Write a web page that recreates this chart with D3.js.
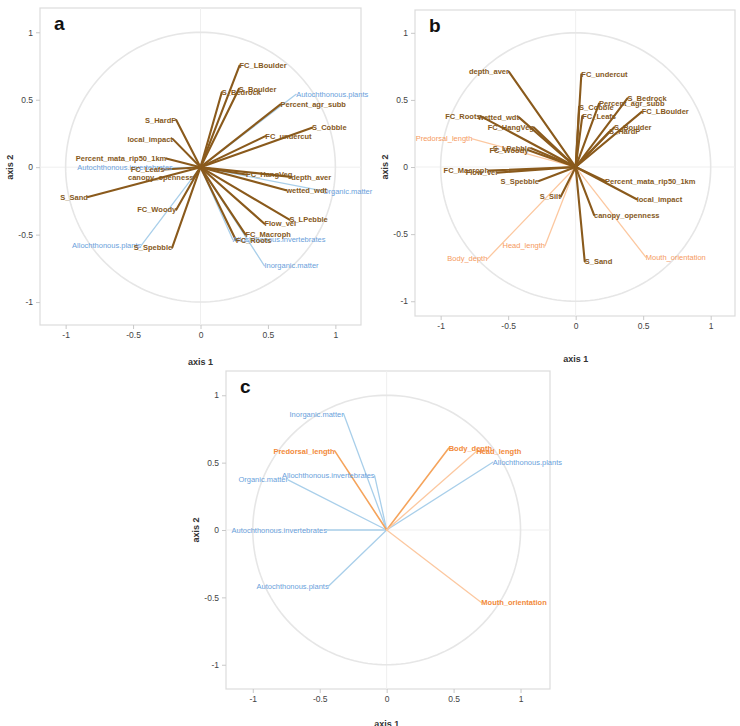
<!DOCTYPE html>
<html>
<head>
<meta charset="utf-8">
<script src="https://cdn.jsdelivr.net/npm/d3@7"></script>
<style>
  html, body { margin: 0; padding: 0; background: #fff; }
  svg { display: block; font-family: "Liberation Sans", Arial, sans-serif; }
</style>
</head>
<body>
<svg id="chart" width="740" height="726"></svg>
<script>
// ---------- DATA ----------
const tickValues = [-1, -0.5, 0, 0.5, 1];
const tickLabels = ["-1", "-0.5", "0", "0.5", "1"];

// Panel a
const aNames = ["FC_LBoulder","S_Boulder","S_Bedrock","Percent_agr_subb","S_Cobble","FC_undercut","FC_HangVeg","depth_aver","wetted_wdt","S_LPebble","Flow_vel","FC_Macroph","FC_Roots","S_Spebble","FC_Woody","S_Sand","canopy_openness","FC_Leafs","Percent_mata_rip50_1km","local_impact","S_HardP",
  "Autochthonous.plants","Organic.matter","Allochthonous.invertebrates","Inorganic.matter","Allochthonous.plants","Autochthonous.invertebrates"];
const aX = [0.289,0.284,0.158,0.593,0.827,0.481,0.338,0.672,0.635,0.659,0.474,0.333,0.264,-0.21,-0.18,-0.835,-0.052,-0.267,-0.254,-0.205,-0.18,
  0.709,0.906,0.24,0.474,-0.439,-0.205];
const aY = [0.753,0.58,0.555,0.466,0.292,0.23,-0.054,-0.072,-0.171,-0.389,-0.419,-0.498,-0.543,-0.597,-0.315,-0.221,-0.077,-0.017,0.065,0.208,0.349,
  0.54,-0.176,-0.538,-0.731,-0.58,-0.005];
const aGroup = ["env","env","env","env","env","env","env","env","env","env","env","env","env","env","env","env","env","env","env","env","env",
  "diet","diet","diet","diet","diet","diet"];

// Panel b
const bNames = ["depth_aver","FC_Roots","wetted_wdt","FC_HangVeg","FC_Woody","S_LPebble","FC_Macroph","Flow_vel","S_Spebble","S_Silt","FC_undercut","S_Bedrock","Percent_agr_subb","S_Cobble","FC_Leafs","FC_LBoulder","S_Boulder","S_HardP","Percent_mata_rip50_1km","local_impact","canopy_openness","S_Sand",
  "Predorsal_length","Head_length","Body_depth","Mouth_orientation"];
const bX = [-0.494,-0.704,-0.42,-0.309,-0.35,-0.33,-0.642,-0.58,-0.272,-0.111,0.042,0.383,0.173,0.025,0.049,0.489,0.284,0.247,0.217,0.452,0.136,0.067,
  -0.765,-0.227,-0.654,0.519];
const bY = [0.709,0.379,0.37,0.295,0.125,0.14,-0.027,-0.042,-0.104,-0.221,0.691,0.511,0.473,0.448,0.379,0.411,0.295,0.262,-0.104,-0.24,-0.357,-0.704,
  0.21,-0.587,-0.684,-0.671];
const bGroup = ["env","env","env","env","env","env","env","env","env","env","env","env","env","env","env","env","env","env","env","env","env","env",
  "morph","morph","morph","morph"];

// Panel c
const cNames = ["Inorganic.matter","Allochthonous.invertebrates","Organic.matter","Autochthonous.invertebrates","Autochthonous.plants","Allochthonous.plants",
  "Predorsal_length","Body_depth","Head_length","Mouth_orientation"];
const cX = [-0.321,-0.09,-0.737,-0.446,-0.433,0.793, -0.388,0.463,0.669,0.707];
const cY = [0.861,0.404,0.372,0.0,-0.416,0.503, 0.587,0.607,0.582,-0.538];
const cGroup = ["diet","diet","diet","diet","diet","diet","morphStrong","morphStrong","morph","morph"];

// ---------- STYLE ----------
const lineColor = { env: "#8a5a1c", diet: "#a9cfea", morph: "#fcc8a0", morphStrong: "#f5a45c" };
const lineWidth = { env: 2.1, diet: 1.3, morph: 1.3, morphStrong: 1.6 };

const panels = [
  { letter: "a", names: aNames, xs: aX, ys: aY, groups: aGroup,
    frame: [40, 8, 361, 325], xd: [-1.19, 1.19], yd: [-1.17, 1.18], titleOff: 40,
    textColor: { env: "#85591c", diet: "#6a9fdb" }, textWeight: { env: "bold", diet: "normal" } },
  { letter: "b", names: bNames, xs: bX, ys: bY, groups: bGroup,
    frame: [415, 10, 735, 316], xd: [-1.19, 1.18], yd: [-1.11, 1.17], titleOff: 46,
    textColor: { env: "#85591c", morph: "#f59a60" }, textWeight: { env: "bold", morph: "normal" } },
  { letter: "c", names: cNames, xs: cX, ys: cY, groups: cGroup,
    frame: [226, 371, 550, 689], xd: [-1.2, 1.22], yd: [-1.18, 1.18], titleOff: 38,
    textColor: { diet: "#6a9fdb", morph: "#f28a3a", morphStrong: "#f28a3a" }, textWeight: { diet: "normal", morph: "bold", morphStrong: "bold" } }
];

const svg = d3.select("#chart");

panels.forEach(p => {
  const [x0, y0, x1, y1] = p.frame;
  const x = d3.scaleLinear().domain(p.xd).range([x0, x1]);
  const y = d3.scaleLinear().domain(p.yd).range([y1, y0]);
  const g = svg.append("g");

  // frame
  g.append("rect").attr("x", x0).attr("y", y0).attr("width", x1 - x0).attr("height", y1 - y0)
    .attr("fill", "#fff").attr("stroke", "#dcdcdc").attr("stroke-width", 1.2);

  // zero lines
  g.append("line").attr("x1", x(0)).attr("x2", x(0)).attr("y1", y0).attr("y2", y1)
    .attr("stroke", "#efefef").attr("stroke-width", 1);
  g.append("line").attr("x1", x0).attr("x2", x1).attr("y1", y(0)).attr("y2", y(0))
    .attr("stroke", "#efefef").attr("stroke-width", 1);

  // unit circle
  const circ = d3.range(0, 361, 2).map(a => [Math.cos(a * Math.PI / 180), Math.sin(a * Math.PI / 180)]);
  g.append("path").attr("d", d3.line().x(d => x(d[0])).y(d => y(d[1]))(circ))
    .attr("fill", "none").attr("stroke", "#e6e6e6").attr("stroke-width", 1.6);

  // axes
  const fmt = d => tickLabels[tickValues.indexOf(d)];
  const xa = g.append("g").attr("transform", `translate(0,${y1})`)
    .call(d3.axisBottom(x).tickValues(tickValues).tickFormat(fmt).tickSize(4).tickPadding(3));
  const ya = g.append("g").attr("transform", `translate(${x0},0)`)
    .call(d3.axisLeft(y).tickValues(tickValues).tickFormat(fmt).tickSize(4).tickPadding(3));
  [xa, ya].forEach(a => {
    a.select(".domain").remove();
    a.selectAll(".tick line").attr("stroke", "#c8c8c8");
    a.selectAll(".tick text").attr("fill", "#444").attr("font-size", 8.5)
      .attr("font-family", "Liberation Sans, Arial, sans-serif");
  });

  // axis titles
  g.append("text").attr("x", x(0)).attr("y", y1 + p.titleOff).attr("text-anchor", "middle")
    .attr("font-size", 9).attr("font-weight", "bold").attr("fill", "#333").text("axis 1");
  g.append("text").attr("transform", `translate(${x0 - 27},${y(0)}) rotate(-90)`)
    .attr("text-anchor", "middle").attr("font-size", 9).attr("font-weight", "bold").attr("fill", "#333").text("axis 2");

  // panel letter
  g.append("text").attr("x", x0 + 14).attr("y", y0 + 22).attr("font-size", 19).attr("font-weight", "bold")
    .attr("fill", "#111").text(p.letter);

  const idx = d3.range(p.names.length);
  const order = i => (p.groups[i] === "env" ? 1 : 0);
  const sorted = idx.slice().sort((a, b) => order(a) - order(b));

  // arrows
  g.selectAll("line.arrow").data(sorted).enter().append("line").attr("class", "arrow")
    .attr("x1", x(0)).attr("y1", y(0))
    .attr("x2", i => x(p.xs[i])).attr("y2", i => y(p.ys[i]))
    .attr("stroke", i => lineColor[p.groups[i]]).attr("stroke-width", i => lineWidth[p.groups[i]])
    .attr("stroke-linecap", "round");

  // labels
  g.selectAll("text.lab").data(sorted).enter().append("text").attr("class", "lab")
    .attr("x", i => x(p.xs[i])).attr("y", i => y(p.ys[i])).attr("dy", "0.35em")
    .attr("text-anchor", i => p.xs[i] < 0 ? "end" : "start")
    .attr("font-size", 7.5)
    .attr("font-weight", i => p.textWeight[p.groups[i]])
    .attr("fill", i => p.textColor[p.groups[i]])
    .text(i => p.names[i]);
});
</script>
</body>
</html>
